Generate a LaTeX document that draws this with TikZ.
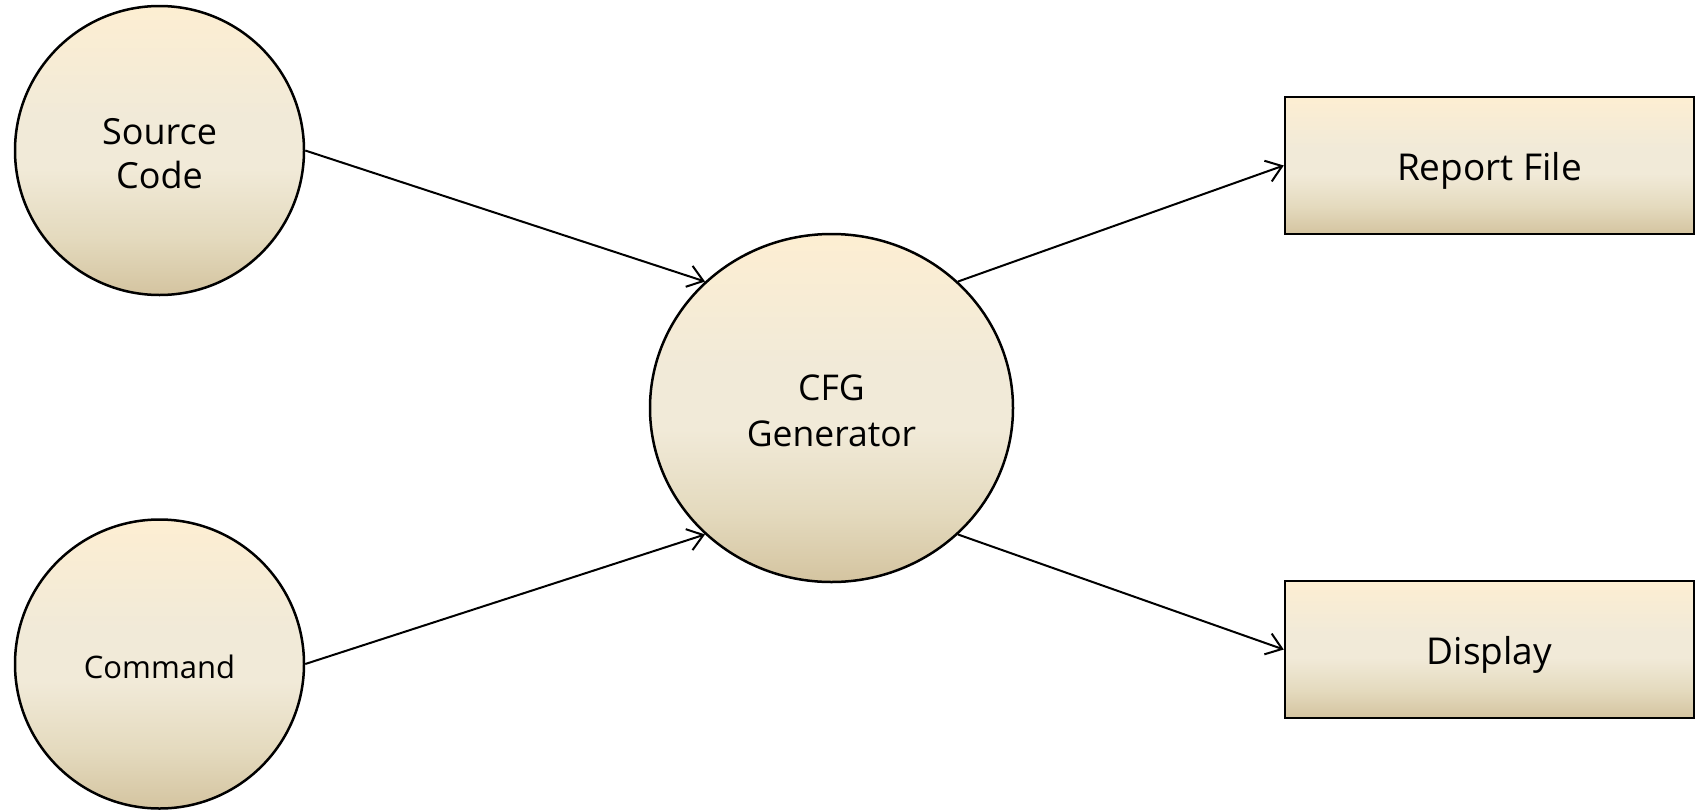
\documentclass[tikz,border=0pt]{standalone}
\usepackage{fontspec}
\setmainfont{Open Sans}
\usetikzlibrary{shapes.geometric,arrows.meta}
\definecolor{cbot}{RGB}{212,196,160}
\definecolor{clow}{RGB}{228,218,190}
\definecolor{cmid}{RGB}{241,234,216}
\definecolor{ctop}{RGB}{253,238,210}
\pgfdeclareverticalshading{cream}{100bp}{color(0bp)=(cbot); color(25bp)=(cbot); color(35bp)=(clow); color(47bp)=(cmid); color(56bp)=(cmid); color(75bp)=(ctop); color(100bp)=(ctop)}
\tikzset{
  blob/.style={draw=black, line width=2.5pt, shading=cream, inner sep=0pt},
  srcnode/.style={blob, circle, minimum size=289pt},
  procnode/.style={blob, ellipse, minimum width=363pt, minimum height=348pt},
  sinknode/.style={blob, rectangle, minimum width=409pt, minimum height=137pt},
  txt/.style={align=center, yshift=-3pt},
  flow/.style={line width=2pt, -{Straight Barb[length=15pt,width=22pt,line width=2pt]}}
}
\begin{document}
\begin{tikzpicture}[x=1pt,y=-1pt]
\useasboundingbox (0,0) rectangle (1697,809);
\node[srcnode, label={[txt, font=\fontsize{36}{44}\selectfont]center:Source\\Code}] (src) at (159.5,150.5) {};
\node[srcnode, label={[txt, font=\fontsize{31}{38}\selectfont]center:Command}] (cmd) at (159.5,664) {};
\node[procnode, label={[txt, font=\fontsize{35.5}{46}\selectfont]center:CFG\\Generator}] (cfg) at (831.5,408) {};
\node[sinknode, label={[txt, yshift=-2pt, font=\fontsize{37}{44}\selectfont]center:Report File}] (rep) at (1489.5,165.5) {};
\node[sinknode, label={[txt, yshift=-2pt, font=\fontsize{37}{44}\selectfont]center:Display}] (dis) at (1489.5,649.5) {};
\draw[flow] (src.east) -- (cfg.135);
\draw[flow] (cmd.east) -- (cfg.225);
\draw[flow] (cfg.45) -- (rep.west);
\draw[flow] (cfg.-45) -- (dis.west);
\end{tikzpicture}
\end{document}
